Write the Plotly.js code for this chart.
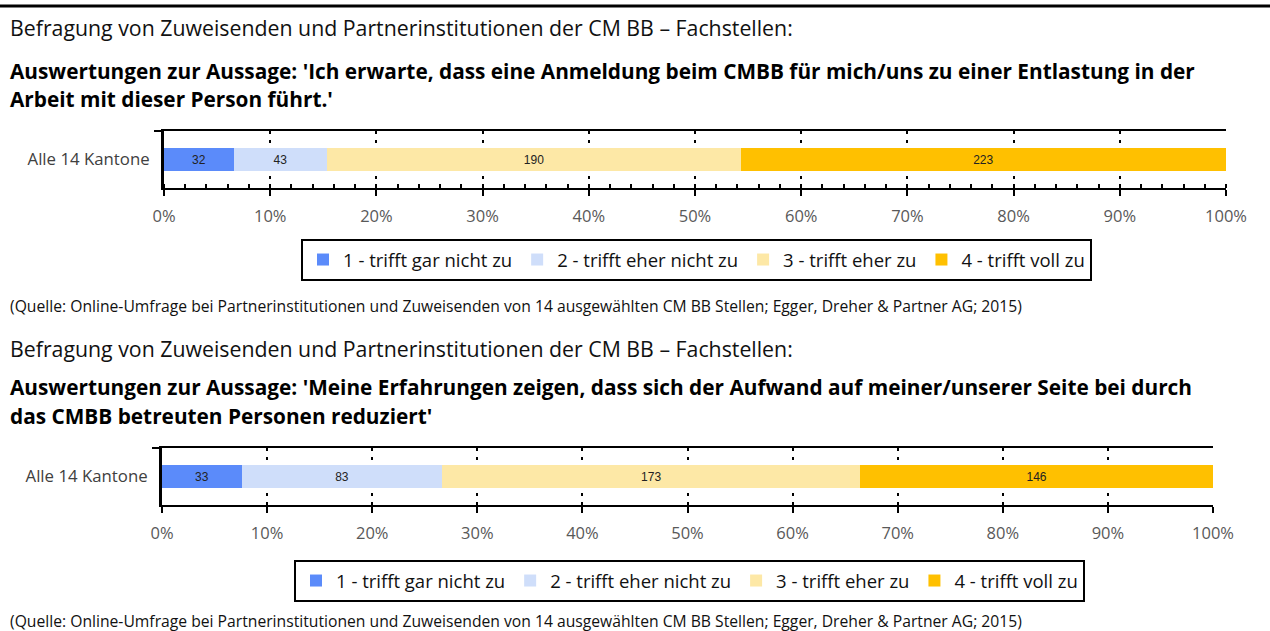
<!DOCTYPE html>
<html>
<head>
<meta charset="utf-8">
<script src="https://cdn.plot.ly/plotly-3.0.1.min.js"></script>
<style>
html,body{margin:0;padding:0;background:#fff;}
#chart{width:1270px;height:631px;}
</style>
</head>
<body>
<div id="chart"></div>
<script>
// ---- data ----
var categories = ["1 - trifft gar nicht zu", "2 - trifft eher nicht zu", "3 - trifft eher zu", "4 - trifft voll zu"];
var colors = ["#5B8BFA", "#CFDEFA", "#FDE8A6", "#FFC000"];
var rowLabel = ["Alle 14 Kantone"];
var values1 = [32, 43, 190, 223];
var values2 = [33, 83, 173, 146];
var tickVals = [0, 10, 20, 30, 40, 50, 60, 70, 80, 90, 100];
var tickText = ["0%", "10%", "20%", "30%", "40%", "50%", "60%", "70%", "80%", "90%", "100%"];

var header = "Befragung von Zuweisenden und Partnerinstitutionen der CM BB – Fachstellen:";
var title1a = "Auswertungen zur Aussage: 'Ich erwarte, dass eine Anmeldung beim CMBB für mich/uns zu einer Entlastung in der";
var title1b = "Arbeit mit dieser Person führt.'";
var title2a = "Auswertungen zur Aussage: 'Meine Erfahrungen zeigen, dass sich der Aufwand auf meiner/unserer Seite bei durch";
var title2b = "das CMBB betreuten Personen reduziert'";
var source = "(Quelle: Online-Umfrage bei Partnerinstitutionen und Zuweisenden von 14 ausgewählten CM BB Stellen; Egger, Dreher &amp; Partner AG; 2015)";

var W = 1270, H = 631;
function px(x){ return x / W; }
function py(y){ return 1 - y / H; }

var FONT = "'Open Sans', Lato, sans-serif";

var traces = [];
function addTraces(vals, xa, ya, leg){
  for (var i = 0; i < categories.length; i++){
    traces.push({
      type: "bar",
      orientation: "h",
      name: categories[i],
      x: [vals[i]],
      y: rowLabel,
      xaxis: xa,
      yaxis: ya,
      legend: leg,
      width: 0.42,
      marker: {color: colors[i], line: {width: 0}},
      text: [String(vals[i])],
      textposition: "inside",
      insidetextanchor: "middle",
      textangle: 0,
      constraintext: "none",
      textfont: {family: "'Liberation Sans', Arial, sans-serif", size: 12, color: "#222222"},
      hoverinfo: "skip"
    });
  }
}
addTraces(values1, "x", "y", "legend");
addTraces(values2, "x2", "y2", "legend2");

function xAxis(domain, anchor, minor){
  var ax = {
    domain: domain,
    anchor: anchor,
    range: [0, 100],
    fixedrange: true,
    tickvals: tickVals,
    ticktext: tickText,
    ticks: "outside",
    ticklen: 6,
    tickwidth: 2,
    tickcolor: "#000",
    showline: true,
    mirror: true,
    linecolor: "#000",
    linewidth: 2,
    showgrid: true,
    gridcolor: "#000",
    gridwidth: 2,
    griddash: "3px,6px",
    zeroline: false,
    ticklabelstandoff: 6,
    tickfont: {family: FONT, size: 16.5, color: "#595959"}
  };
  if (minor){
    ax.minor = {dtick: 2, tick0: 0, ticks: "inside", ticklen: 4, tickwidth: 2, tickcolor: "#000", showgrid: false};
  }
  return ax;
}
function yAxis(domain, anchor){
  return {
    domain: domain,
    anchor: anchor,
    type: "category",
    range: [-0.5, 0.5],
    fixedrange: true,
    ticks: "outside",
    tickson: "boundaries",
    ticklen: 7,
    tickwidth: 2,
    tickcolor: "#000",
    showline: true,
    linecolor: "#000",
    linewidth: 3,
    showgrid: false,
    zeroline: false,
    ticklabelstandoff: 8,
    tickfont: {family: FONT, size: 16.8, color: "#404040"}
  };
}

var legendCommon = {
  orientation: "h",
  xanchor: "left",
  yanchor: "top",
  bgcolor: "#fff",
  bordercolor: "#000",
  borderwidth: 2,
  font: {family: FONT, size: 18.5, color: "#111"},
  itemclick: false,
  itemdoubleclick: false,
  tracegroupgap: 0,
  traceorder: "normal"
};
var leg1 = Object.assign({}, legendCommon, {x: px(301), y: py(239)});
var leg2 = Object.assign({}, legendCommon, {x: px(294), y: py(560)});

function ann(text, x, y, size, bold, color){
  return {
    text: bold ? "<b>" + text + "</b>" : text,
    xref: "paper", yref: "paper",
    x: px(x), y: py(y),
    xanchor: "left", yanchor: "middle",
    showarrow: false,
    font: {family: FONT, size: size, color: color || "#000"}
  };
}

var layout = {
  width: W, height: H,
  margin: {l: 0, r: 0, t: 0, b: 0},
  paper_bgcolor: "#fff",
  plot_bgcolor: "#fff",
  barmode: "stack",
  barnorm: "percent",
  showlegend: true,
  legend: leg1,
  legend2: leg2,
  xaxis: xAxis([px(164), px(1226)], "y", true),
  yaxis: yAxis([py(188), py(131)], "x"),
  xaxis2: xAxis([px(162), px(1213)], "y2", false),
  yaxis2: yAxis([py(505), py(448)], "x2"),
  shapes: [
    {type: "line", xref: "paper", yref: "paper", x0: 0, x1: 1, y0: py(6), y1: py(6), line: {color: "#000", width: 3}}
  ],
  annotations: [
    ann(header, 8, 27, 21.3, false, "#111"),
    ann(title1a, 8, 71, 20.8, true, "#000"),
    ann(title1b, 8, 99, 20.8, true, "#000"),
    ann(source, 8, 306, 15.7, false, "#111"),
    ann(header, 8, 348, 21.3, false, "#111"),
    ann(title2a, 8, 387, 20.8, true, "#000"),
    ann(title2b, 8, 416, 20.8, true, "#000"),
    ann(source, 8, 621, 15.7, false, "#111")
  ]
};

Plotly.newPlot("chart", traces, layout, {displayModeBar: false, staticPlot: true});
</script>
</body>
</html>
